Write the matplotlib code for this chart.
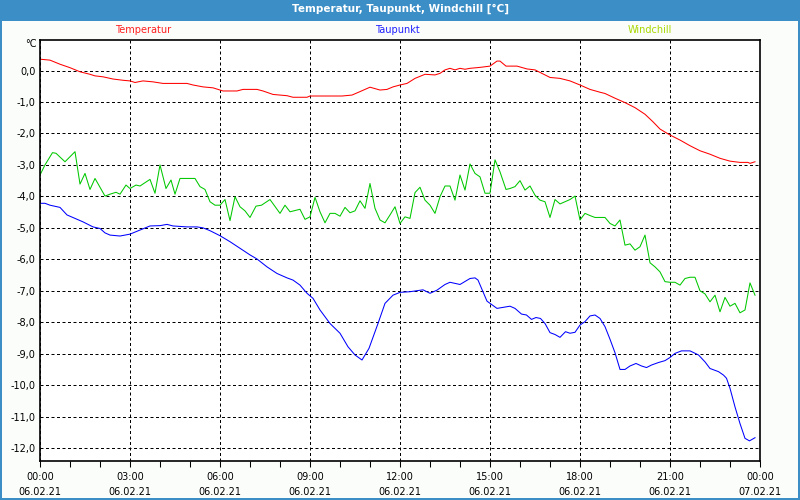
import matplotlib
matplotlib.use("Agg")
import matplotlib.pyplot as plt
from matplotlib.patches import Rectangle
from matplotlib.ticker import FuncFormatter, MultipleLocator

# minutes since 06.02.21 00:00 and values in degC
temp_min = [0, 20, 40, 60, 80, 100, 110, 126, 146, 166, 180, 190, 206, 226, 246,
            294, 306, 326, 346, 360, 366, 394, 406, 434, 446, 466, 494, 506, 534,
            540, 604, 624, 640, 660, 680, 694, 706, 720, 734, 750, 770, 790, 800,
            810, 820, 830, 840, 850, 860, 880, 900, 914, 920, 932, 954, 974, 990,
            1020, 1040, 1060, 1080, 1100, 1120, 1130, 1150, 1170, 1190, 1210, 1226,
            1240, 1260, 1280, 1300, 1320, 1340, 1360, 1380, 1400, 1416, 1420, 1430]
temp_val = [0.36, 0.33, 0.20, 0.09, -0.04, -0.12, -0.17, -0.20, -0.27, -0.31,
            -0.33, -0.38, -0.33, -0.36, -0.41, -0.41, -0.46, -0.52, -0.55, -0.62,
            -0.65, -0.65, -0.60, -0.60, -0.65, -0.76, -0.80, -0.85, -0.85, -0.81,
            -0.81, -0.78, -0.67, -0.53, -0.62, -0.60, -0.52, -0.46, -0.41, -0.25,
            -0.12, -0.14, -0.09, 0.02, 0.07, 0.02, 0.07, 0.04, 0.07, 0.10, 0.14,
            0.30, 0.30, 0.14, 0.14, 0.05, 0.02, -0.22, -0.25, -0.33, -0.46, -0.60,
            -0.69, -0.73, -0.88, -1.02, -1.18, -1.39, -1.63, -1.86, -2.05, -2.21,
            -2.39, -2.55, -2.66, -2.79, -2.88, -2.92, -2.92, -2.95, -2.90]

dew_min = [0, 10, 20, 40, 54, 70, 86, 106, 120, 130, 140, 160, 180, 200, 220, 240,
           254, 266, 294, 314, 326, 340, 360, 380, 400, 420, 434, 454, 474, 494,
           506, 520, 534, 546, 560, 580, 600, 616, 630, 644, 658, 676, 690, 706,
           720, 740, 766, 780, 794, 810, 820, 840, 860, 870, 876, 894, 914, 940,
           950, 963, 973, 983, 992, 1001, 1010, 1020, 1030, 1040, 1051, 1060, 1070,
           1080, 1090, 1100, 1110, 1120, 1130, 1140, 1150, 1160, 1170, 1180, 1192,
           1203, 1213, 1223, 1237, 1250, 1260, 1270, 1283, 1300, 1317, 1330, 1340,
           1357, 1367, 1373, 1380, 1390, 1400, 1410, 1419, 1430]
dew_val = [-4.22, -4.22, -4.28, -4.35, -4.59, -4.70, -4.81, -4.97, -5.02, -5.16,
           -5.23, -5.26, -5.20, -5.07, -4.94, -4.93, -4.89, -4.94, -4.97, -4.97,
           -5.00, -5.09, -5.25, -5.44, -5.65, -5.86, -5.99, -6.24, -6.45, -6.59,
           -6.66, -6.82, -7.08, -7.24, -7.61, -8.04, -8.35, -8.78, -9.04, -9.20,
           -8.83, -8.04, -7.40, -7.14, -7.05, -7.03, -6.97, -7.08, -6.98, -6.80,
           -6.73, -6.80, -6.61, -6.59, -6.66, -7.33, -7.56, -7.49,
           -7.56, -7.74, -7.77, -7.91, -7.85, -7.88, -8.04, -8.33, -8.39, -8.48,
           -8.30, -8.35, -8.32, -8.09, -7.98, -7.80, -7.77, -7.88, -8.14, -8.54,
           -8.97, -9.50, -9.50, -9.39, -9.31, -9.39, -9.44, -9.36, -9.28, -9.22,
           -9.12, -8.99, -8.91, -8.91, -9.04, -9.26, -9.47, -9.57, -9.68, -9.78,
           -10.10, -10.69, -11.22, -11.69, -11.77, -11.67]

wc_min = [0, 10, 25, 32, 50, 70, 80, 90, 100, 110, 130, 140, 152, 160, 172, 180,
          192, 200, 220, 230, 240, 252, 262, 270, 280, 310, 320, 330, 340, 350,
          360, 370, 380, 390, 400, 410, 420, 432, 443, 460, 480, 490, 500, 520,
          530, 540, 550, 560, 570, 580, 590, 600, 610, 620, 630, 640, 650, 660,
          670, 680, 690, 700, 710, 720, 730, 740, 750, 760, 770, 780, 790, 800,
          810, 820, 830, 840, 850, 860, 870, 880, 890, 900, 910, 920, 932, 940,
          950, 960, 970, 980, 990, 1000, 1010, 1020, 1030, 1040, 1050, 1060, 1070,
          1080, 1090, 1100, 1110, 1130, 1140, 1150, 1160, 1170, 1180, 1190, 1200,
          1210, 1220, 1230, 1240, 1250, 1260, 1270, 1280, 1290, 1300, 1310, 1320,
          1330, 1340, 1350, 1360, 1370, 1380, 1390, 1400, 1410, 1420, 1430]
wc_val = [-3.32, -3.00, -2.61, -2.63, -2.90, -2.58, -3.61, -3.27, -3.78, -3.43,
          -3.99, -3.93, -3.87, -3.93, -3.64, -3.75, -3.64, -3.67, -3.46, -3.90,
          -3.00, -3.75, -3.48, -3.93, -3.43, -3.43, -3.69, -3.78, -4.17, -4.28,
          -4.28, -4.10, -4.77, -4.01, -4.33, -4.46, -4.67, -4.31, -4.28, -4.10,
          -4.54, -4.28, -4.49, -4.41, -4.73, -4.65, -4.03, -4.49, -4.84, -4.54,
          -4.54, -4.63, -4.35, -4.52, -4.46, -4.14, -4.38, -3.59, -4.38, -4.75,
          -4.84, -4.59, -4.33, -4.86, -4.65, -4.70, -3.88, -3.71, -4.12, -4.28,
          -4.54, -4.01, -3.67, -3.67, -4.12, -3.32, -3.80, -2.97, -3.27, -3.38,
          -3.90, -3.90, -2.84, -3.22, -3.78, -3.75, -3.69, -3.50, -3.80, -3.67,
          -3.96, -4.12, -4.17, -4.67, -4.10, -4.24, -4.17, -4.10, -3.99, -4.75,
          -4.54, -4.61, -4.67, -4.67, -4.86, -4.94, -4.75, -5.55, -5.51, -5.71,
          -5.60, -5.23, -6.11, -6.24, -6.40, -6.71, -6.73, -6.73, -6.82, -6.61,
          -6.57, -6.57, -7.00, -7.10, -7.35, -7.14, -7.67, -7.21, -7.49, -7.40,
          -7.70, -7.61, -6.75, -7.14]

tick_hours = [0, 3, 6, 9, 12, 15, 18, 21, 24]
tick_labels = ["00:00\n06.02.21", "03:00\n06.02.21", "06:00\n06.02.21",
               "09:00\n06.02.21", "12:00\n06.02.21", "15:00\n06.02.21",
               "18:00\n06.02.21", "21:00\n06.02.21", "00:00\n07.02.21"]

series = [
    ("Temperatur", temp_min, temp_val, "#ff0000", "#ff2020", 143),
    ("Taupunkt", dew_min, dew_val, "#0000ff", "#2020ff", 397),
    ("Windchill", wc_min, wc_val, "#00c800", "#a8d800", 650),
]

plt.rcParams['font.family'] = ['DejaVu Sans']

fig = plt.figure(figsize=(8, 5), dpi=100)
fig.patch.set_facecolor("#3c8fc6")
# light panel inside the blue frame
fig.patches.append(Rectangle((2 / 800, 2 / 500), 796 / 800, 477 / 500,
                             transform=fig.transFigure, facecolor="#fbfdfb",
                             edgecolor="none", zorder=-1))
fig.text(0.5, 1 - 9 / 500, "Temperatur, Taupunkt, Windchill [°C]", color="white",
         fontsize=7.5, fontweight="bold", ha="center", va="center")

ax = fig.add_axes([40 / 800, 39 / 500, 720 / 800, 421 / 500])
ax.set_zorder(2)
ax.set_facecolor("white")

for name, mins, vals, col, tcol, xpix in series:
    ax.plot([m / 60 for m in mins], vals, color=col, lw=0.75)
    fig.text(xpix / 800, 1 - 30 / 500, name, color=tcol, fontsize=7,
             ha="center", va="center")

ax.set_xlim(0, 24)
ax.set_ylim(-12.41, 0.97)
ax.set_xticks(tick_hours)
ax.set_xticklabels(tick_labels, fontsize=7, linespacing=1.65)
ax.xaxis.set_minor_locator(MultipleLocator(1))
ax.yaxis.set_major_locator(MultipleLocator(1))
ax.yaxis.set_major_formatter(FuncFormatter(lambda v, p: f"{v:.1f}".replace(".", ",").replace("-0,0", "0,0")))
ax.tick_params(axis="x", which="both", direction="out", length=4, width=0.75,
               pad=4, labelsize=7)
ax.tick_params(axis="y", length=0, pad=3, labelsize=7)

ax.grid(True, which="major", color="black", lw=0.72, linestyle=(0, (3, 2.5)))
ax.set_axisbelow(True)
for s in ax.spines.values():
    s.set_linewidth(1.2)

fig.text(37 / 800, 1 - 44 / 500, "°C", fontsize=7, ha="right", va="center")

fig.savefig("out.png", dpi=100, facecolor=fig.get_facecolor())
